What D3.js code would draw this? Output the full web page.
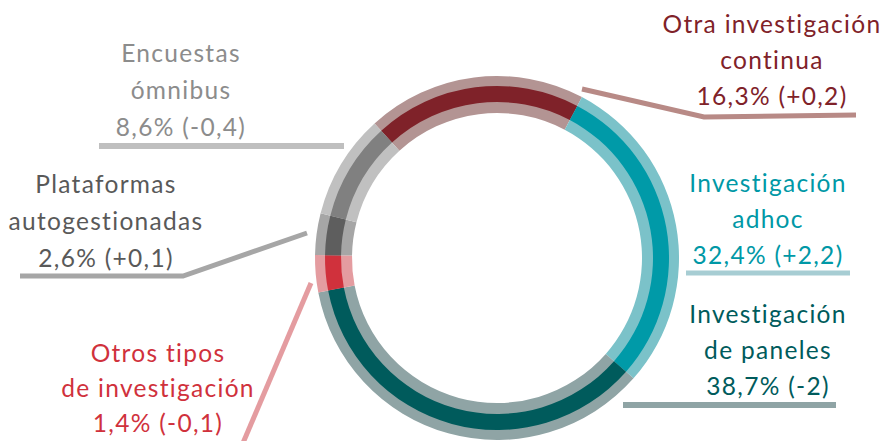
<!DOCTYPE html>
<html>
<head>
<meta charset="utf-8">
<script src="https://cdn.jsdelivr.net/npm/d3@7"></script>
<style>
  body { margin: 0; background: #fff; }
  svg text { font-family: "Lato", "DejaVu Sans", sans-serif; font-variant-ligatures: none; letter-spacing: 1.3px; }
</style>
</head>
<body>
<svg id="chart"></svg>
<script>
// segments, clockwise starting at the dark red one
const categories = [
  ["Otra investigación", "continua"],
  ["Investigación", "adhoc"],
  ["Investigación", "de paneles"],
  ["Otros tipos", "de investigación"],
  ["Plataformas", "autogestionadas"],
  ["Encuestas", "ómnibus"]
];
const shares = ["16,3%", "32,4%", "38,7%", "1,4%", "2,6%", "8,6%"];
const changes = ["+0,2", "+2,2", "-2", "-0,1", "+0,1", "-0,4"];
// share of the ring each segment takes in the picture (not exactly the labels)
const ringShares = [19.5, 28.8, 35.5, 3.3, 3.7, 9.3];

const darkColors  = ["#7f2229", "#009aa8", "#005b5c", "#d0313c", "#5e5e5e", "#808080"];
const lightColors = ["#b39493", "#7bc2c9", "#8fa4a5", "#e49ca0", "#a6a6a6", "#c0c0c0"];
const textColors  = ["#7f2229", "#0098a6", "#005b5c", "#d0313c", "#595959", "#8c8c8c"];
const lineColors  = ["#b88a86", "#a7cdd3", "#8fa4a5", "#e49ca0", "#a6a6a6", "#bfbfbf"];

const width = 884, height = 441;
const cx = 497, cy = 258;

const svg = d3.select("#chart")
  .attr("width", width)
  .attr("height", height);

const pie = d3.pie()
  .sort(null)
  .value(d => d)
  .startAngle(-42.3 * Math.PI / 180)
  .endAngle((360 - 42.3) * Math.PI / 180);

const arcs = pie(ringShares);

const outerArc = d3.arc().innerRadius(145).outerRadius(182);
const innerArc = d3.arc().innerRadius(156).outerRadius(172);

const g = svg.append("g").attr("transform", `translate(${cx},${cy})`);

g.selectAll("path.light")
  .data(arcs)
  .enter().append("path")
  .attr("class", "light")
  .attr("d", outerArc)
  .attr("fill", (d, i) => lightColors[i]);

g.selectAll("path.dark")
  .data(arcs)
  .enter().append("path")
  .attr("class", "dark")
  .attr("d", innerArc)
  .attr("fill", (d, i) => darkColors[i]);

// label placement: text centre x, first baseline, line gap, leader points
const labels = [
  { x: 772, y: 33, gap: 36, line: [[582, 89], [704, 117], [856, 115]], w: 5 },
  { x: 768, y: 192, gap: 36, line: [[686, 273], [850, 273]], w: 5 },
  { x: 768, y: 323, gap: 36, line: [[623, 405], [836, 405]], w: 6 },
  { x: 158, y: 362, gap: 35, line: [[311, 283], [240, 450]], w: 5 },
  { x: 106, y: 193, gap: 37, line: [[20, 276], [183, 276], [307, 233]], w: 5 },
  { x: 181, y: 62, gap: 37, line: [[99, 146], [344, 146]], w: 6 }
];

const lineGen = d3.line();

labels.forEach((l, i) => {
  svg.append("path")
    .attr("d", lineGen(l.line))
    .attr("fill", "none")
    .attr("stroke", lineColors[i])
    .attr("stroke-width", l.w);

  const t = svg.append("text")
    .attr("text-anchor", "middle")
    .attr("fill", textColors[i])
    .attr("font-size", 24.5);
  const rows = categories[i].concat([`${shares[i]} (${changes[i]})`]);
  rows.forEach((r, j) => {
    t.append("tspan")
      .attr("x", l.x)
      .attr("y", l.y + j * l.gap)
      .text(r);
  });
});
</script>
</body>
</html>
